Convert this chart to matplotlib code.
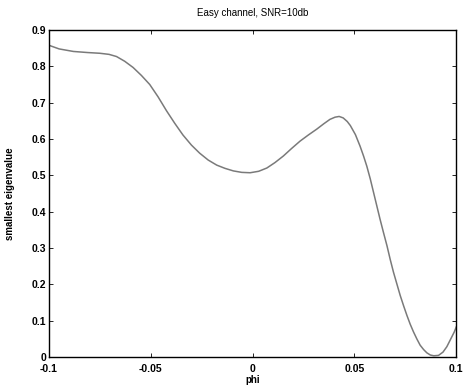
import numpy as np
import matplotlib
matplotlib.use('Agg')
import matplotlib.pyplot as plt

# values
phi = [-0.1, -0.095, -0.088, -0.081, -0.075, -0.0705, -0.0668, -0.0628, -0.0587,
       -0.0546, -0.0505, -0.0464, -0.0423, -0.0382, -0.0342, -0.03, -0.026,
       -0.0218, -0.0176, -0.0135, -0.0094, -0.0053, -0.0012, 0.003, 0.007,
       0.011, 0.0151, 0.0192, 0.0233, 0.0274, 0.0315, 0.035, 0.038, 0.0405,
       0.0425, 0.0445, 0.0465, 0.048, 0.0505, 0.0528, 0.0545, 0.0561, 0.0578,
       0.0594, 0.061, 0.0626, 0.0643, 0.066, 0.0676, 0.0692, 0.0709, 0.0725,
       0.0742, 0.0758, 0.0774, 0.079, 0.0807, 0.0823, 0.084, 0.0856, 0.0873,
       0.089, 0.0913, 0.0935, 0.0954, 0.0972, 0.099, 0.1]
eig = [0.858, 0.848, 0.841, 0.838, 0.836, 0.833, 0.827, 0.814, 0.797,
       0.775, 0.75, 0.716, 0.678, 0.643, 0.611, 0.583, 0.561,
       0.542, 0.528, 0.519, 0.512, 0.508, 0.507, 0.511, 0.52,
       0.535, 0.553, 0.574, 0.594, 0.611, 0.627, 0.642, 0.654, 0.66,
       0.662, 0.658, 0.648, 0.637, 0.612, 0.58, 0.553, 0.525, 0.49,
       0.453, 0.416, 0.379, 0.342, 0.306, 0.268, 0.233, 0.2, 0.169,
       0.14, 0.114, 0.09, 0.069, 0.049, 0.032, 0.02, 0.011, 0.005,
       0.003, 0.004, 0.013, 0.028, 0.048, 0.068, 0.082]

plt.rcParams['font.family'] = ['Liberation Sans', 'DejaVu Sans']

fig = plt.figure(figsize=(4.66, 3.9), dpi=100)
ax = fig.add_axes([0.105, 0.085, 0.874, 0.838])

ax.plot(phi, eig, color='#7a7a7a', linewidth=1.1)

ax.set_xlim(-0.1, 0.1)
ax.set_ylim(0, 0.9)
ax.set_xticks([-0.1, -0.05, 0, 0.05, 0.1])
ax.set_xticklabels(['-0.1', '-0.05', '0', '0.05', '0.1'])
ax.set_yticks(np.arange(0, 0.91, 0.1))
ax.set_yticklabels(['0', '0.1', '0.2', '0.3', '0.4', '0.5', '0.6', '0.7', '0.8', '0.9'])
ax.tick_params(direction='in', top=True, right=True, length=3, width=0.6,
               labelsize=7.5)
ax.tick_params(axis='x', pad=5)
ax.tick_params(axis='y', pad=2)
for lab in ax.get_xticklabels() + ax.get_yticklabels():
    lab.set_fontweight('bold')
for s in ax.spines.values():
    s.set_linewidth(1.0)

ax.set_title('Easy channel, SNR=10db', fontsize=7, pad=10)
ax.set_xlabel('phi', fontsize=7, fontweight='bold', labelpad=1)
ax.set_ylabel('smallest eigenvalue', fontsize=7, fontweight='bold', labelpad=12)

fig.savefig('out.png', dpi=100)
